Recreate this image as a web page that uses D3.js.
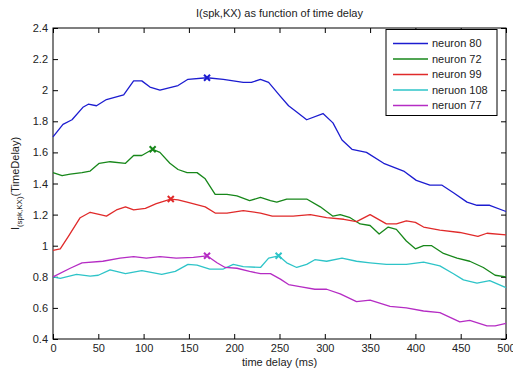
<!DOCTYPE html>
<html>
<head>
<meta charset="utf-8">
<script src="https://cdn.jsdelivr.net/npm/d3@7"></script>
<style>
  body { margin: 0; background: #fff; }
  svg { display: block; font-family: "Liberation Sans", Arial, sans-serif; }
</style>
</head>
<body>
<svg id="chart" width="513" height="370"></svg>
<script>
// legend labels (typos kept as in the original figure)
const names = ['neuron 80', 'neuron 72', 'neuron 99', 'neruon 108', 'neruon 77'];
const colors = ['#1c1cd0', '#17871a', '#e02a2a', '#2ec4c8', '#b52cc4'];

// [time delay (ms), I] pairs
const neuron80 = [[0,1.70],[11,1.78],[21,1.81],[33,1.89],[39,1.91],[48,1.90],[59,1.94],[78,1.97],[89,2.06],[98,2.06],[107,2.02],[118,2.00],[138,2.03],[149,2.07],[170,2.08],[188,2.07],[210,2.05],[219,2.05],[229,2.07],[238,2.05],[251,1.96],[260,1.90],[269,1.86],[280,1.81],[298,1.85],[309,1.79],[319,1.68],[330,1.62],[346,1.60],[365,1.53],[387,1.48],[401,1.42],[416,1.39],[429,1.39],[442,1.34],[457,1.28],[468,1.26],[482,1.26],[500,1.22]];
const neuron72 = [[0,1.47],[10,1.45],[19,1.46],[32,1.47],[41,1.48],[51,1.53],[63,1.54],[80,1.53],[89,1.58],[98,1.58],[110,1.62],[118,1.60],[129,1.53],[138,1.49],[148,1.47],[159,1.47],[168,1.43],[179,1.33],[192,1.33],[203,1.32],[217,1.29],[229,1.31],[240,1.29],[247,1.28],[258,1.30],[280,1.30],[295,1.25],[309,1.19],[317,1.20],[328,1.18],[339,1.14],[350,1.13],[360,1.075],[370,1.12],[379,1.105],[390,1.03],[400,0.98],[409,1.00],[418,1.00],[431,0.95],[446,0.92],[460,0.90],[475,0.86],[488,0.81],[500,0.80]];
const neuron99 = [[0,0.97],[8,0.98],[17,1.06],[30,1.18],[41,1.215],[52,1.20],[59,1.19],[70,1.23],[80,1.25],[89,1.23],[102,1.24],[114,1.27],[130,1.30],[138,1.295],[148,1.28],[168,1.25],[179,1.21],[192,1.21],[210,1.225],[229,1.21],[242,1.19],[265,1.19],[284,1.20],[302,1.18],[321,1.17],[335,1.155],[350,1.20],[368,1.14],[379,1.14],[390,1.16],[400,1.15],[409,1.12],[427,1.10],[449,1.085],[469,1.06],[479,1.08],[500,1.07]];
const neuron108 = [[0,0.80],[8,0.79],[26,0.815],[41,0.805],[50,0.81],[63,0.845],[80,0.82],[98,0.84],[120,0.815],[135,0.835],[149,0.88],[159,0.875],[173,0.85],[188,0.85],[199,0.88],[210,0.865],[229,0.86],[238,0.92],[249,0.935],[258,0.89],[269,0.86],[280,0.88],[289,0.91],[302,0.90],[319,0.92],[335,0.90],[350,0.89],[368,0.88],[390,0.88],[409,0.895],[427,0.87],[442,0.82],[453,0.78],[468,0.76],[482,0.775],[500,0.73]];
const neuron77 = [[0,0.80],[19,0.855],[32,0.89],[55,0.90],[74,0.92],[89,0.93],[103,0.92],[118,0.93],[136,0.92],[155,0.925],[170,0.935],[181,0.89],[190,0.86],[203,0.855],[217,0.835],[229,0.82],[240,0.82],[251,0.785],[260,0.75],[274,0.735],[289,0.72],[302,0.72],[317,0.69],[335,0.64],[350,0.65],[372,0.61],[390,0.60],[409,0.58],[427,0.57],[449,0.51],[460,0.52],[479,0.485],[488,0.485],[500,0.50]];

const xTicks = [0, 50, 100, 150, 200, 250, 300, 350, 400, 450, 500];
const yTicks = [0.4, 0.6, 0.8, 1.0, 1.2, 1.4, 1.6, 1.8, 2.0, 2.2, 2.4];

const series = [neuron80, neuron72, neuron99, neuron108, neuron77];

const svg = d3.select('#chart');
const pLeft = 53, pRight = 506, pTop = 28, pBottom = 339;

const x = d3.scaleLinear().domain([0, 500]).range([pLeft, pRight]);
const y = d3.scaleLinear().domain([0.4, 2.4]).range([pBottom, pTop]);

// white background
svg.append('rect').attr('width', 513).attr('height', 370).attr('fill', '#fff');

// axes, MATLAB style: ticks point inwards, box on all four sides
const fmt = d => String(+d.toFixed(1));
const styleAxis = g => {
  g.select('.domain').remove();
  g.selectAll('line').attr('stroke', '#000');
  g.selectAll('text').attr('fill', '#222').style('font-size', '11px');
};

svg.append('g')
  .attr('transform', `translate(0,${pBottom})`)
  .call(d3.axisBottom(x).tickValues(xTicks).tickSizeInner(-5).tickSizeOuter(0).tickPadding(5))
  .call(styleAxis);

svg.append('g')
  .attr('transform', `translate(0,${pTop})`)
  .call(d3.axisTop(x).tickValues(xTicks).tickSizeInner(-5).tickSizeOuter(0).tickFormat(''))
  .call(styleAxis);

svg.append('g')
  .attr('transform', `translate(${pLeft},0)`)
  .call(d3.axisLeft(y).tickValues(yTicks).tickSizeInner(-5).tickSizeOuter(0).tickPadding(5).tickFormat(fmt))
  .call(styleAxis);

svg.append('g')
  .attr('transform', `translate(${pRight},0)`)
  .call(d3.axisRight(y).tickValues(yTicks).tickSizeInner(-5).tickSizeOuter(0).tickFormat(''))
  .call(styleAxis);

svg.append('rect')
  .attr('x', pLeft).attr('y', pTop)
  .attr('width', pRight - pLeft).attr('height', pBottom - pTop)
  .attr('fill', 'none').attr('stroke', '#000').attr('stroke-width', 1);

// lines
const line = d3.line().x(d => x(d[0])).y(d => y(d[1]));

svg.append('g')
  .selectAll('path')
  .data(series)
  .join('path')
  .attr('d', line)
  .attr('fill', 'none')
  .attr('stroke', (d, i) => colors[i])
  .attr('stroke-width', 1.3)
  .attr('stroke-linejoin', 'round');

// x markers at the maximum of each curve
const peaks = series.map(s => s[d3.maxIndex(s, d => d[1])]);
const m = 3;
svg.append('g')
  .selectAll('path')
  .data(peaks)
  .join('path')
  .attr('d', d => {
    const px = x(d[0]), py = y(d[1]);
    return `M${px - m},${py - m}L${px + m},${py + m}M${px - m},${py + m}L${px + m},${py - m}`;
  })
  .attr('stroke', (d, i) => colors[i])
  .attr('stroke-width', 2)
  .attr('fill', 'none');

// title and axis labels
svg.append('text')
  .attr('x', (pLeft + pRight) / 2).attr('y', 17)
  .attr('text-anchor', 'middle')
  .style('font-size', '11px').attr('fill', '#222')
  .text('I(spk,KX) as function of time delay');

svg.append('text')
  .attr('x', (pLeft + pRight) / 2).attr('y', 366)
  .attr('text-anchor', 'middle')
  .style('font-size', '11px').attr('fill', '#222')
  .text('time delay (ms)');

const ylab = svg.append('text')
  .attr('transform', `translate(19,${(pTop + pBottom) / 2}) rotate(-90)`)
  .attr('text-anchor', 'middle')
  .style('font-size', '11px').attr('fill', '#222');
ylab.append('tspan').text('I');
ylab.append('tspan').attr('dy', 3).style('font-size', '8px').text('(spk,KX)');
ylab.append('tspan').attr('dy', -3).text('(TimeDelay)');

// legend
const lg = svg.append('g');
lg.append('rect')
  .attr('x', 386).attr('y', 29.5)
  .attr('width', 111).attr('height', 86)
  .attr('fill', '#fff').attr('stroke', '#000');

const rows = lg.selectAll('g.row')
  .data(names)
  .join('g')
  .attr('class', 'row')
  .attr('transform', (d, i) => `translate(0,${43.5 + i * 15.5})`);

rows.append('line')
  .attr('x1', 393).attr('x2', 428)
  .attr('stroke', (d, i) => colors[i])
  .attr('stroke-width', 1.3);

rows.append('text')
  .attr('x', 432).attr('dy', '0.35em')
  .style('font-size', '11px').attr('fill', '#222')
  .text(d => d);
</script>
</body>
</html>
